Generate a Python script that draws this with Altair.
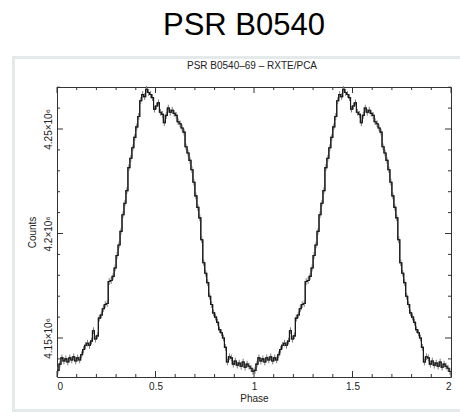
import altair as alt
import pandas as pd

# Pulse profile of PSR B0540-69 (RXTE/PCA), 100 phase bins per cycle, counts in thousands
counts_k = [
    4134.5, 4137.5, 4140.5, 4139.0, 4140.0, 4138.5, 4140.5, 4139.5, 4141.0, 4139.0,
    4140.5, 4139.5, 4142.0, 4144.5, 4146.5, 4147.5, 4146.5, 4148.5, 4153.5, 4149.5,
    4151.0, 4159.5, 4161.0, 4164.0, 4166.0, 4166.5, 4177.0, 4177.5, 4179.5, 4183.5,
    4189.5, 4194.5, 4201.0, 4209.0, 4214.5, 4220.5, 4231.5, 4236.0, 4241.0, 4246.0,
    4251.0, 4256.0, 4263.5, 4266.5, 4265.5, 4269.0, 4267.5, 4266.5, 4265.0, 4259.5,
    4261.0, 4262.5, 4258.0, 4257.0, 4253.0, 4256.5, 4260.0, 4258.0, 4259.0, 4257.5,
    4256.5, 4253.5, 4252.5, 4250.5, 4248.5, 4241.5, 4238.5, 4235.0, 4230.5, 4224.5,
    4218.0, 4212.5, 4207.5, 4197.0, 4186.0, 4181.0, 4176.5, 4170.0, 4166.0, 4162.0,
    4160.0, 4157.5, 4154.0, 4152.5, 4150.0, 4145.5, 4138.5, 4141.0, 4140.5, 4137.5,
    4139.0, 4137.0, 4138.0, 4136.5, 4138.5, 4136.0, 4137.5, 4136.5, 4135.5, 4134.0,
]
error_k = 1.6           # 1-sigma error per bin, thousands of counts
n_cycles = 2

x_major = [0, 0.5, 1, 1.5, 2]
x_minor = [0.1, 0.2, 0.3, 0.4, 0.6, 0.7, 0.8, 0.9, 1.1, 1.2, 1.3, 1.4, 1.6, 1.7, 1.8, 1.9]
y_major = [4150000, 4200000, 4250000]
y_minor = [4140000, 4160000, 4170000, 4180000, 4190000, 4210000, 4220000, 4230000, 4240000, 4260000, 4270000]

main_title = "PSR B0540"
plot_title = "PSR B0540\u201369 \u2013 RXTE/PCA"

# --- tables -------------------------------------------------------------
nbin = len(counts_k)
rows = []
for cyc in range(n_cycles):
    for i, c in enumerate(counts_k):
        start = cyc + i / nbin
        rows.append({"phase": start, "mid": start + 0.5 / nbin, "counts": c * 1000,
                     "lo": (c - error_k) * 1000, "hi": (c + error_k) * 1000})
rows.append({"phase": float(n_cycles), "mid": None, "counts": counts_k[-1] * 1000, "lo": None, "hi": None})
prof = pd.DataFrame(rows)
bars = prof.dropna()

W, H = 394, 290
FONT = "Liberation Sans"
XDOM = [0, 2]
YDOM = [4131340, 4270100]

xs = alt.Scale(domain=XDOM, nice=False, zero=False)
ys = alt.Scale(domain=YDOM, nice=False, zero=False)

# one axis definition shared by every layer so they merge cleanly
xax = alt.Axis(
    values=x_major, format="~g", title="Phase", ticks=False, domain=False, grid=False,
    labelFont=FONT, labelFontSize=10, labelColor="#222", labelPadding=4,
    titleFont=FONT, titleFontSize=10, titleFontWeight="normal", titleColor="#222", titlePadding=2)
yax = alt.Axis(
    values=y_major, labelExpr="format(datum.value / 1e6, '~g') + '\u00d710\u2076'",
    title="Counts", ticks=False, domain=False, grid=False,
    labelAngle=-90, labelAlign="center", labelBaseline="bottom",
    labelFont=FONT, labelFontSize=10, labelColor="#222", labelPadding=4,
    titleFont=FONT, titleFontSize=10, titleFontWeight="normal", titleColor="#222", titlePadding=6)

# histogram-style profile
line = alt.Chart(prof).mark_line(interpolate="step-after", color="#1a1a1a", strokeWidth=1.1).encode(
    x=alt.X("phase:Q", scale=xs, axis=xax),
    y=alt.Y("counts:Q", scale=ys, axis=yax),
)

# error bars
err = alt.Chart(bars).mark_rule(color="#7a7a7a", strokeWidth=1).encode(
    x=alt.X("mid:Q", scale=xs, axis=xax),
    y=alt.Y("lo:Q", scale=ys, axis=yax),
    y2="hi:Q",
)

# inward tick marks on all four sides of the frame
def xticks(vals, length):
    d = pd.DataFrame({"v": vals})
    bot = alt.Chart(d).mark_rule(color="#333", strokeWidth=1).encode(
        x=alt.X("v:Q", scale=xs, axis=xax), y=alt.value(H), y2=alt.value(H - length))
    top = alt.Chart(d).mark_rule(color="#333", strokeWidth=1).encode(
        x=alt.X("v:Q", scale=xs, axis=xax), y=alt.value(0), y2=alt.value(length))
    return [bot, top]

def yticks(vals, length):
    d = pd.DataFrame({"v": vals})
    left = alt.Chart(d).mark_rule(color="#333", strokeWidth=1).encode(
        y=alt.Y("v:Q", scale=ys, axis=yax), x=alt.value(0), x2=alt.value(length))
    right = alt.Chart(d).mark_rule(color="#333", strokeWidth=1).encode(
        y=alt.Y("v:Q", scale=ys, axis=yax), x=alt.value(W), x2=alt.value(W - length))
    return [left, right]

ticks = xticks(x_major, 6) + xticks(x_minor, 3) + yticks(y_major, 6) + yticks(y_minor, 3)

one = pd.DataFrame({"t": [main_title], "s": [plot_title]})

# light border of the figure panel
panel = alt.Chart(one).mark_rect(fillOpacity=0, stroke="#e4e9e9", strokeWidth=3).encode(
    x=alt.value(-43.5), x2=alt.value(W + 30), y=alt.value(-29.5), y2=alt.value(H + 33.5))

big = alt.Chart(one).mark_text(font=FONT, fontSize=31, color="#000", align="center", baseline="alphabetic").encode(
    text="t:N", x=alt.value(187), y=alt.value(-52))

small = alt.Chart(one).mark_text(font=FONT, fontSize=10, color="#222", align="center", baseline="alphabetic").encode(
    text="s:N", x=alt.value(195), y=alt.value(-18))

chart = alt.layer(line, err, line, *ticks, panel, big, small).properties(
    width=W, height=H,
    autosize=alt.AutoSizeParams(type="none"),
    padding={"left": 57, "top": 87, "right": 9, "bottom": 35},
    background="white",
).configure_view(stroke="#333", strokeWidth=1)

chart.save("out.html", embed_options={"renderer": "svg", "actions": False})
